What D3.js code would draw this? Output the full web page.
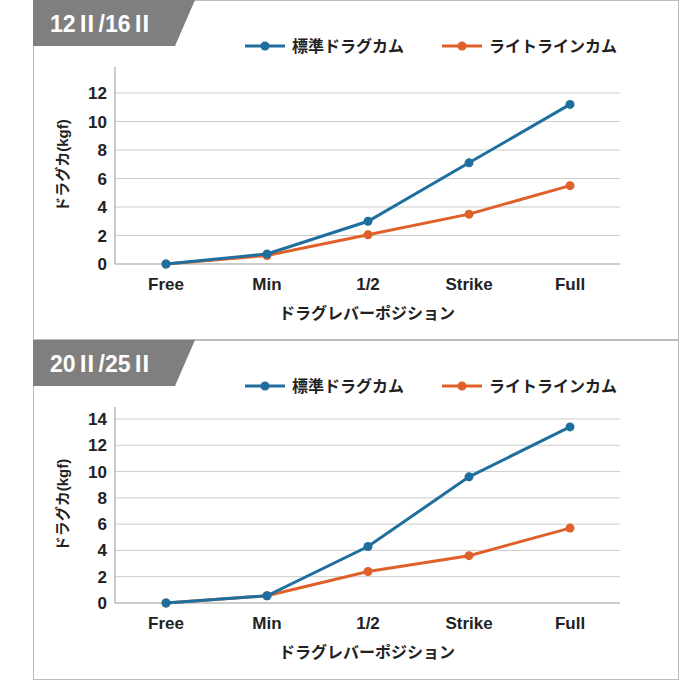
<!DOCTYPE html><html><head><meta charset="utf-8"><script src="https://cdn.jsdelivr.net/npm/d3@7"></script>
<style>body{margin:0;background:#fff}text{font-family:"Liberation Sans","Noto Sans CJK JP",sans-serif;font-weight:bold}</style></head><body><svg id="c" width="680" height="680"></svg><script>
const categories=["Free","Min","1/2","Strike","Full"];
const seriesNames=["標準ドラグカム","ライトラインカム"];
const colors=["#1f6f9e","#e0602a"];
const panel1Std=[0,0.7,3.0,7.1,11.2];
const panel1Light=[0,0.6,2.05,3.5,5.5];
const panel2Std=[0,0.55,4.3,9.6,13.4];
const panel2Light=[0,0.55,2.4,3.6,5.7];
const ticks1=[0,2,4,6,8,10,12];
const ticks2=[0,2,4,6,8,10,12,14];
const panels=[{title:"12Ⅱ/16Ⅱ",top:0,data:[panel1Std,panel1Light],ticks:ticks1,max:12,y0:264,yMax:93,axTop:67},
{title:"20Ⅱ/25Ⅱ",top:340,data:[panel2Std,panel2Light],ticks:ticks2,max:14,y0:603,yMax:419,axTop:407}];
const svg=d3.select("#c");
const x=d3.scalePoint().domain(categories).range([166,570]);
panels.forEach(p=>{
 const g=svg.append("g");
 g.append("rect").attr("x",33.5).attr("y",p.top+0.5).attr("width",645).attr("height",339).attr("fill","none").attr("stroke","#bbb");
 g.append("path").attr("d",`M33,${p.top}H195L175,${p.top+46}H33Z`).attr("fill","#7f7f7f");
 g.append("text").attr("x",50).attr("y",p.top+32).attr("fill","#fff").attr("font-size",23).text(p.title);
 const y=d3.scaleLinear().domain([0,p.max]).range([p.y0,p.yMax]);
 g.selectAll(".gl").data(p.ticks.filter(t=>t>0)).enter().append("line").attr("x1",115).attr("x2",620).attr("y1",d=>y(d)).attr("y2",d=>y(d)).attr("stroke","#ccc");
 g.append("line").attr("x1",115).attr("x2",620).attr("y1",p.y0).attr("y2",p.y0).attr("stroke","#999");
 g.append("line").attr("x1",115).attr("x2",115).attr("y1",p.axTop).attr("y2",p.y0).attr("stroke","#999");
 g.selectAll(".yt").data(p.ticks).enter().append("text").attr("x",107).attr("y",d=>y(d)+6).attr("text-anchor","end").attr("font-size",17).attr("fill","#222").text(d=>d);
 g.selectAll(".xt").data(categories).enter().append("text").attr("x",d=>x(d)).attr("y",p.y0+26).attr("text-anchor","middle").attr("font-size",17).attr("fill","#222").text(d=>d);
 g.append("text").attr("x",367).attr("y",p.y0+55).attr("text-anchor","middle").attr("font-size",16).attr("fill","#222").text("ドラグレバーポジション");
 g.append("text").attr("transform",`translate(68,${(p.y0+p.axTop)/2})rotate(-90)`).attr("text-anchor","middle").attr("font-size",15).attr("fill","#222").text("ドラグカ(kgf)");
 const line=d3.line().x((d,i)=>x(categories[i])).y(d=>y(d));
 p.data.slice().reverse().forEach((s,ri)=>{const i=1-ri;
  g.append("path").attr("d",line(s)).attr("fill","none").attr("stroke",colors[i]).attr("stroke-width",3);
  g.selectAll(null).data(s).enter().append("circle").attr("cx",(d,j)=>x(categories[j])).attr("cy",d=>y(d)).attr("r",4.5).attr("fill",colors[i]);});
 const lx=[245,442];
 seriesNames.forEach((n,i)=>{const ly=p.top+46;
  g.append("line").attr("x1",lx[i]).attr("x2",lx[i]+40).attr("y1",ly).attr("y2",ly).attr("stroke",colors[i]).attr("stroke-width",3);
  g.append("circle").attr("cx",lx[i]+20).attr("cy",ly).attr("r",4.5).attr("fill",colors[i]);
  g.append("text").attr("x",lx[i]+47).attr("y",ly+6).attr("font-size",16).attr("fill","#222").text(n);});
});
</script></body></html>
